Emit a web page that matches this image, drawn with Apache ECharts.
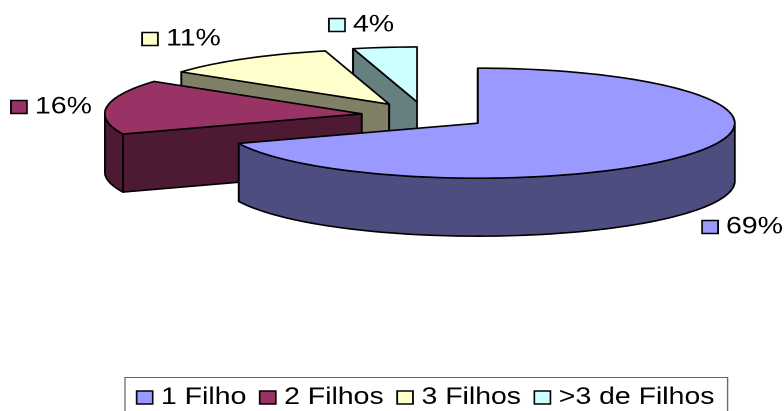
<!DOCTYPE html>
<html>
<head>
<meta charset="utf-8">
<style>
  html, body { margin: 0; padding: 0; background: #fff; overflow: hidden; }
  /* The drawing is laid out narrow and widened as a whole, so type and shapes share one stretch. */
  #chart { width: 653.33px; height: 411px; transform: scaleX(1.2); transform-origin: 0 0; }
</style>
</head>
<body>
<div id="chart"></div>
<script src="https://cdn.jsdelivr.net/npm/echarts@6/dist/echarts.min.js"></script>
<script>
// Share of families by number of children
const categories = ['1 Filho', '2 Filhos', '3 Filhos', '>3 de Filhos'];
const shares = [69, 16, 11, 4];
const topColors = ['#9999ff', '#993366', '#ffffcc', '#ccffff'];
const wallColors = ['#4d4d80', '#4d1933', '#808066', '#668080'];

// Pie geometry, given in page pixels; x values are divided by the stretch below.
const STRETCH = 1.2;
const CX = 425 / STRETCH, CY = 115.5;
const RX = 257 / STRETCH, RY = 55;
const DEPTH = 58;
const EXPLODE = 0.248;
const FONT = '"Liberation Sans", Arial, sans-serif';

// Data label placement per slice: swatch left edge and vertical centre, in page pixels.
const labelSpots = [[702, 227], [11, 107], [142, 39], [329, 25]];

const total = shares.reduce((a, b) => a + b, 0);
const rad = d => d * Math.PI / 180;

function sliceAngles(i) {
  const before = shares.slice(0, i).reduce((a, b) => a + b, 0);
  return [before / total * 360, (before + shares[i]) / total * 360];
}

function renderSlice(i, value) {
  const [a0] = sliceAngles(i);
  const a1 = a0 + value / total * 360;
  const mid = rad((a0 + a1) / 2);
  const ox = CX + EXPLODE * RX * Math.sin(mid);
  const oy = CY - EXPLODE * RY * Math.cos(mid);
  const rim = a => [ox + RX * Math.sin(rad(a)), oy - RY * Math.cos(rad(a))];
  const arc = (from, to) => {
    const pts = [];
    for (let a = from; a < to; a += 2) pts.push(rim(a));
    pts.push(rim(to));
    return pts;
  };
  const drop = p => [p[0], p[1] + DEPTH];
  const line = { stroke: '#000', lineWidth: 1.6, lineJoin: 'round' };
  const children = [];

  // Radial cut face that turns toward the viewer
  if (a0 > 180) {
    const edge = [[ox, oy], rim(a0), drop(rim(a0)), drop([ox, oy])];
    children.push({ type: 'polygon', shape: { points: edge },
      style: Object.assign({ fill: wallColors[i] }, line) });
  }
  // Outer wall along the front half of the rim
  const w0 = Math.max(a0, 90), w1 = Math.min(a1, 270);
  if (w1 > w0) {
    const top = arc(w0, w1);
    const wall = top.concat(top.slice().reverse().map(drop));
    children.push({ type: 'polygon', shape: { points: wall },
      style: Object.assign({ fill: wallColors[i] }, line) });
  }
  // Top face
  children.push({ type: 'polygon', shape: { points: [[ox, oy]].concat(arc(a0, a1)) },
    style: Object.assign({ fill: topColors[i] }, line) });

  // Data label: swatch plus percentage
  const [sx, sy] = labelSpots[i];
  children.push({ type: 'rect',
    shape: { x: sx / STRETCH, y: sy - 6.5, width: 13.3, height: 13 },
    style: { fill: topColors[i], stroke: '#000', lineWidth: 1.4 } });
  children.push({ type: 'text', x: (sx + 24) / STRETCH, y: sy,
    style: { text: value + '%', fill: '#000', font: '23.7px ' + FONT,
      textAlign: 'left', textVerticalAlign: 'middle' } });

  return { type: 'group', children };
}

const chart = echarts.init(document.getElementById('chart'), null, { devicePixelRatio: 2 });
chart.setOption({
  animation: false,
  backgroundColor: '#fff',
  legend: {
    data: categories,
    left: 125 / STRETCH,
    top: 377.5,
    orient: 'horizontal',
    icon: 'rect',
    itemWidth: 13.3,
    itemHeight: 13,
    itemGap: 10.5,
    padding: [8, 11, 24, 9],
    borderColor: '#666',
    borderWidth: 1,
    selectedMode: false,
    itemStyle: { borderColor: '#000', borderWidth: 1.4 },
    textStyle: { color: '#000', fontFamily: FONT, fontSize: 23.7, padding: [0, 0, 0, 2] }
  },
  series: categories.map((name, i) => ({
    type: 'custom',
    name,
    coordinateSystem: 'none',
    z: 10 - i,
    silent: true,
    itemStyle: { color: topColors[i] },
    data: [[shares[i]]],
    renderItem: (params, api) => renderSlice(i, api.value(0))
  }))
});
</script>
</body>
</html>
